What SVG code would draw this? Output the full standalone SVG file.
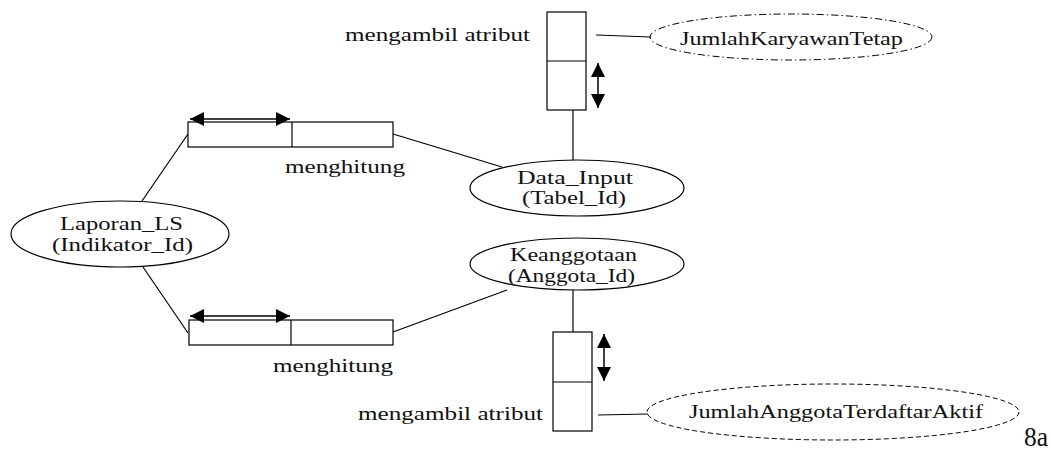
<svg xmlns="http://www.w3.org/2000/svg" width="1051" height="452" viewBox="0 0 1051 452">
<style>
.s{fill:none;stroke:#000;stroke-width:1.2}
.b{fill:#fff;stroke:#000;stroke-width:1.2}
.t{font-family:"Liberation Serif","Times New Roman",serif;font-size:18px;fill:#111}
.dd{fill:none;stroke:#000;stroke-width:1;stroke-dasharray:7 3 1.5 3}
.ds{fill:none;stroke:#000;stroke-width:1;stroke-dasharray:5 3}
.ar{fill:none;stroke:#000;stroke-width:1.5}
</style>
<defs>
<marker id="ah2" viewBox="0 0 14 14" refX="14" refY="7" markerWidth="14" markerHeight="14" markerUnits="userSpaceOnUse" orient="auto-start-reverse">
<path d="M0,0 L14,7 L0,14 z" fill="#000"/>
</marker>
</defs>
<g id="connectors">
<line class="s" x1="596" y1="35" x2="651" y2="37"/>
<line class="s" x1="573" y1="110" x2="573" y2="160"/>
<line class="s" x1="393" y1="134" x2="502" y2="167"/>
<line class="s" x1="142" y1="201" x2="188" y2="134"/>
<line class="s" x1="143" y1="267" x2="188" y2="333"/>
<line class="s" x1="393" y1="332" x2="507" y2="290"/>
<line class="s" x1="573" y1="290" x2="573" y2="332"/>
<line class="s" x1="598" y1="415" x2="648" y2="414"/>
</g>
<g id="box-top">
<rect class="b" x="547" y="12" width="39" height="98"/>
<line class="s" x1="547" y1="61" x2="586" y2="61"/>
<line class="ar" x1="598" y1="63" x2="598" y2="108" marker-start="url(#ah2)" marker-end="url(#ah2)"/>
<text class="t" x="345" y="41" textLength="185" lengthAdjust="spacingAndGlyphs">mengambil atribut</text>
</g>
<g id="attr-karyawan">
<ellipse class="dd" cx="791" cy="37" rx="141" ry="23"/>
<text class="t" x="680" y="45" textLength="223" lengthAdjust="spacingAndGlyphs">JumlahKaryawanTetap</text>
</g>
<g id="rel-top">
<rect class="b" x="188" y="122" width="205" height="25"/>
<line class="s" x1="292" y1="122" x2="292" y2="147"/>
<line class="ar" x1="190" y1="119" x2="290" y2="119" marker-start="url(#ah2)" marker-end="url(#ah2)"/>
<text class="t" x="285" y="173" textLength="120" lengthAdjust="spacingAndGlyphs">menghitung</text>
</g>
<g id="data-input">
<ellipse class="s" cx="577" cy="188" rx="107" ry="28"/>
<text class="t" x="517" y="184" textLength="116" lengthAdjust="spacingAndGlyphs">Data_Input</text>
<text class="t" x="522" y="204" textLength="104" lengthAdjust="spacingAndGlyphs">(Tabel_Id)</text>
</g>
<g id="laporan">
<ellipse class="s" cx="120" cy="234" rx="109" ry="33"/>
<text class="t" x="60" y="230" textLength="123" lengthAdjust="spacingAndGlyphs">Laporan_LS</text>
<text class="t" x="52" y="251" textLength="141" lengthAdjust="spacingAndGlyphs">(Indikator_Id)</text>
</g>
<g id="keanggotaan">
<ellipse class="s" cx="577" cy="264" rx="107" ry="26"/>
<text class="t" x="510" y="261" textLength="127" lengthAdjust="spacingAndGlyphs">Keanggotaan</text>
<text class="t" x="508" y="282" textLength="127" lengthAdjust="spacingAndGlyphs">(Anggota_Id)</text>
</g>
<g id="rel-bottom">
<rect class="b" x="189" y="320" width="204" height="25"/>
<line class="s" x1="291" y1="320" x2="291" y2="345"/>
<line class="ar" x1="190" y1="316" x2="290" y2="316" marker-start="url(#ah2)" marker-end="url(#ah2)"/>
<text class="t" x="273" y="372" textLength="120" lengthAdjust="spacingAndGlyphs">menghitung</text>
</g>
<g id="box-bottom">
<rect class="b" x="553" y="332" width="39" height="99"/>
<line class="s" x1="553" y1="382" x2="592" y2="382"/>
<line class="ar" x1="604" y1="334" x2="604" y2="381" marker-start="url(#ah2)" marker-end="url(#ah2)"/>
<text class="t" x="358" y="420" textLength="185" lengthAdjust="spacingAndGlyphs">mengambil atribut</text>
</g>
<g id="attr-anggota">
<ellipse class="ds" cx="833" cy="412" rx="186" ry="28"/>
<text class="t" x="689" y="418" textLength="294" lengthAdjust="spacingAndGlyphs">JumlahAnggotaTerdaftarAktif</text>
</g>
<text class="t" x="1024" y="446" style="font-size:28px" textLength="24" lengthAdjust="spacingAndGlyphs">8a</text>
</svg>
